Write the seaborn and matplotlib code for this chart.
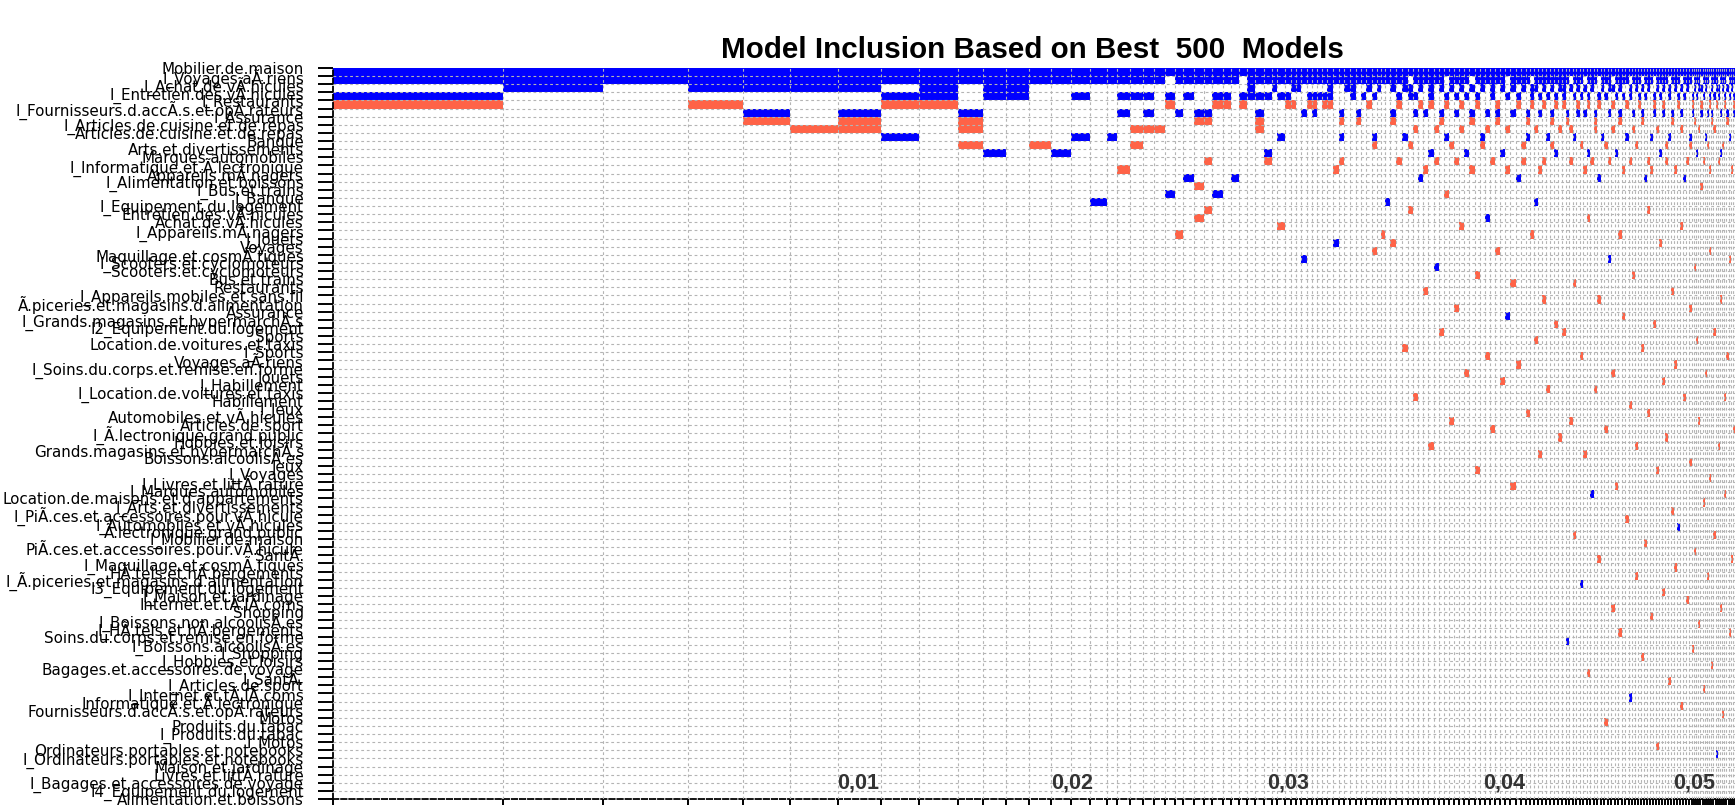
import numpy as np
import matplotlib
matplotlib.use("Agg")
import matplotlib.pyplot as plt
from matplotlib.colors import ListedColormap
import seaborn as sns

var_names = [
    "Mobilier.de.maison", "I_Voyages.aÃ.riens", "I_Achat.de.vÃ.hicules",
    "I_Entretien.des.vÃ.hicules", "I_Restaurants",
    "I_Fournisseurs.d.accÃ.s.et.opÃ.rateurs", "I_Assurance",
    "I_Articles.de.cuisine.et.de.repas", "Articles.de.cuisine.et.de.repas",
    "Banque", "Arts.et.divertissements", "Marques.automobiles",
    "I_Informatique.et.Ã.lectronique", "Appareils.mÃ.nagers",
    "I_Alimentation.et.boissons", "I_Bus.et.trains", "I_Banque",
    "I_Equipement.du.logement", "Entretien.des.vÃ.hicules",
    "Achat.de.vÃ.hicules", "I_Appareils.mÃ.nagers", "I_Jouets", "Voyages",
    "Maquillage.et.cosmÃ.tiques", "I_Scooters.et.cyclomoteurs",
    "Scooters.et.cyclomoteurs", "Bus.et.trains", "Restaurants",
    "I_Appareils.mobiles.et.sans.fil", "Ã.piceries.et.magasins.d.alimentation",
    "Assurance", "I_Grands.magasins.et.hypermarchÃ.s",
    "I2_Equipement.du.logement", "Sports", "Location.de.voitures.et.taxis",
    "I_Sports", "Voyages.aÃ.riens", "I_Soins.du.corps.et.remise.en.forme",
    "Jouets", "I_Habillement", "I_Location.de.voitures.et.taxis",
    "Habillement", "I_Jeux", "Automobiles.et.vÃ.hicules", "Articles.de.sport",
    "I_Ã.lectronique.grand.public", "Hobbies.et.loisirs",
    "Grands.magasins.et.hypermarchÃ.s", "Boissons.alcoolisÃ.es", "Jeux",
    "I_Voyages", "I_Livres.et.littÃ.rature", "I_Marques.automobiles",
    "Location.de.maisons.et.d.appartements", "I_Arts.et.divertissements",
    "I_PiÃ.ces.et.accessoires.pour.vÃ.hicule", "I_Automobiles.et.vÃ.hicules",
    "Ã.lectronique.grand.public", "I_Mobilier.de.maison",
    "PiÃ.ces.et.accessoires.pour.vÃ.hicule", "SantÃ.",
    "I_Maquillage.et.cosmÃ.tiques", "HÃ.tels.et.hÃ.bergements",
    "I_Ã.piceries.et.magasins.d.alimentation", "I3_Equipement.du.logement",
    "I_Maison.et.jardinage", "Internet.et.tÃ.lÃ.coms", "Shopping",
    "I_Boissons.non.alcoolisÃ.es", "I_HÃ.tels.et.hÃ.bergements",
    "Soins.du.corps.et.remise.en.forme", "I_Boissons.alcoolisÃ.es",
    "I_Shopping", "I_Hobbies.et.loisirs", "Bagages.et.accessoires.de.voyage",
    "I_SantÃ.", "I_Articles.de.sport", "I_Internet.et.tÃ.lÃ.coms",
    "Informatique.et.Ã.lectronique", "Fournisseurs.d.accÃ.s.et.opÃ.rateurs",
    "Motos", "Produits.du.tabac", "I_Produits.du.tabac", "I_Motos",
    "Ordinateurs.portables.et.notebooks", "I_Ordinateurs.portables.et.notebooks",
    "Maison.et.jardinage", "Livres.et.littÃ.rature",
    "I_Bagages.et.accessoires.de.voyage", "I4_Equipement.du.logement",
    "Alimentation.et.boissons",
]

# posterior model probabilities of the visible models, in units of 1e-5
pmp = [631, 371, 315, 204, 171, 178, 159, 141, 145, 93, 85, 85, 82, 74, 70, 63,
       37, 48, 48, 41, 41, 37, 30, 41, 37, 30, 41, 30, 30, 30, 30, 30, 30, 19,
       30, 22, 19, 19, 22, 19, 19, 19, 19, 22, 22, 19, 19, 22, 19, 19, 22, 19,
       15, 15, 19,
       22, 22, 22] + [19] * 23 + [15] * 9 + [13] * 20 + [11] * 20 + [8] * 20

# variables in each model: +k positive, -k negative coefficient (k = row)
models = [
    "+1 +2 +4 -5", "+1 +2 +3", "+1 +2", "+1 +2 +3 -5", "+1 +2 +3 +6 -7",
    "+1 +2 +3 -8", "+1 +2 +3 +6 -7 -8", "+1 +2 +4 -5 +9", "+1 +2 +3 +4 -5",
    "+1 +2 +6 -7 -8 -10", "+1 +2 +3 +4 +11", "+1 +2 +3 +4", "+1 +2 -10",
    "+1 +2 +11", "+1 +2 +4 +9", "+1 +2 +17",
    "+1 +2 +9", "+1 +2 +4 +6 -13", "+1 +2 +4 -8 -10", "+1 +2 +4 +6 -8",
    "+1 +2 -8", "+1 +4 -5 +16", "+1 +2 +6 -21", "+1 +2 +4 +14",
    "+1 +2 +6 -7 -15 -19", "+1 +2 +6 -7 -12 -18", "+1 +2 +4 -5 +16",
    "+1 +2 +4 -5", "+1 +2 +14", "+1 +4 -5", "+1 +2 +3 +4",
    "+1 +2 +4 +6 -7 -8", "+1 +2 +4 +11 -12", "+1 +2 +3", "+1 +2 +4 +9 -20",
    "+1 +2 +4 -5", "+1 +2 +3 -5", "+1 +2 +3", "+1 +2 +6 +24", "+1 +2 +4 -5",
    "+1 +2 +4 -5 +6", "+1 +2 +4", "+1 +2 +4 -5", "+1 +2 +3 +4 -5",
    "+1 +2 -13 +22", "+1 +2 +6 -7 +9 -12", "+1 +2 +3", "+1 +2 +3 +4",
    "+1 +2 +6 -7", "+1 +2 +4", "+1 +2 +3 -5", "+1 +2 +4 +9 -10 -23",
    "+1 +2 +3", "+1 +2 -21", "+1 +2 +17",
    # thinner models
    "+1 +2 +3 +6 -7 -22", "+1 +2 +4 -5 -12", "+1 +2 +3 +9 -35",
    "+1 +3 +4 -10 -18", "+1 +2 +4 +6 -8 -41", "+1 +2 +3 -5 +14",
    "+1 +2 +6 -13 -28", "+1 +2 +3 +4 -5 +11 -47", "+1 +2 -8 -12 +25",
    "+1 +2 +3 +6 -7 -33", "+1 +4 -5 +9 -16", "+1 +2 +3 -10 -44",
    "+1 +2 +4 +6 -12 -30", "+1 +2 +3 -5 -8 -20", "+1 +2 +4 +11 -38",
    "+1 +3 +6 -7 -13", "+1 +2 +4 -5 -26 -50", "+1 +2 +3 +9 -10",
    "+1 +2 +6 -8 +19 -36", "+1 +2 +3 +4 -12 -45", "+1 +2 -5 +6 -7 -23",
    "+1 +2 +3 +11 -39", "+1 +4 -8 -13 +31", "+1 +2 +3 +6 -27 -52",
    "+1 +2 +4 -5 +14 -37", "+1 +2 +3 -10 -12", "+1 +2 +6 -7 +9 -43",
    "+1 +3 +4 -5 -21", "+1 +2 +3 -8 +17 -34", "+1 +2 +4 +6 -13 -48",
    "+1 +2 +3 -5 -12 -29", "+1 +2 +4 +9 -40", "+1 +2 +3 +6 -7 -10",
    "+1 +2 +4 -5 +11 -32", "+1 +2 +3 -8 -46",
    # thinnest models
    "+1 +2 +3 +4 -5 -33", "+1 +2 +6 -7 +71", "+1 +3 -8 -12 -44",
    "+1 +2 +4 +9 -27 -58", "+1 +2 +3 -5 +6", "+1 +2 +4 -10 +64 -36",
    "+1 +3 +6 -13 -48", "+1 +2 +4 -5 +11 -19 -75", "+1 +2 +3 -12 +53",
    "+1 +2 +6 -7 -8 -40", "+1 +4 -5 +14 -61 -29", "+1 +2 +3 +9",
    "+1 +2 +4 -10 -45 -81", "+1 +2 +3 +6 -12 +24", "+1 +3 -5 -8 -67 -38",
    "+1 +2 +4 +11 -52", "+1 +2 +3 -7 +6 -21 -70", "+1 +2 +4 -13 -31",
    "+1 +2 -5 +9 -56", "+1 +3 +4 -12 +78 -42", "+1 +2 +6 -8 -26",
    "+1 +2 +3 -10 -63 -47", "+1 +2 +4 -5", "+1 +3 +6 -7 -35 -73",
    "+1 +2 +4 +14 -59", "+1 +2 +3 -12 -18 -43", "+1 +2 +9 -13 -68",
    "+1 +4 -5 +6 -32", "+1 +2 +3 -8 -50 -84", "+1 +2 +4 +11 -22",
    "+1 +2 +3 -5 +6 -65 -39", "+1 +2 -10 -12 -46", "+1 +3 +4 +9 -76",
    "+1 +2 +6 -7 -28 -55", "+1 +2 +3 -13 -37 -62", "+1 +2 +4 -5 +57",
    "+1 +3 +6 -8 -20 -79", "+1 +2 +4 +14 -41", "+1 +2 +3 -12 -66",
    "+1 +2 +9 -10 -30 -49", "+1 +4 -5 +6 -72", "+1 +2 +3 -7 -25 -60",
    "+1 +2 +4 +11 -34", "+1 +2 +3 -8 -69 -44", "+1 +3 -5 +6 -15",
    "+1 +2 +4 -12 -54 -77", "+1 +2 +3 +9 -38", "+1 +2 -10 +6 -63",
    "+1 +4 -5 -13 -23 -51", "+1 +2 +3 +6 -7 -74", "+1 +2 +4 -8 -33 -58",
    "+1 +2 +3 -5 +85", "+1 +3 +4 -12 -47", "+1 +2 +6 +11 -29 -67",
    "+1 +2 +3 -10 -80", "+1 +2 +4 -5 -41 -53", "+1 +3 +6 -7 -36",
    "+1 +2 +4 +9 -70 -24", "+1 +2 +3 -13 -61", "+1 +2 +4 -5 +6 -45",
]

xtick_text = ["0,01", "0,02", "0,03", "0,04", "0,05"]
xtick_at = [1945, 2737, 3538, 4338, 5044]  # same 1e-5 units as pmp

sns.set_theme(style="white")
plt.rcParams["font.family"] = ["DejaVu Sans"]

n_var = len(var_names)
z = np.zeros((n_var, len(models)))
for j, m in enumerate(models):
    for tok in m.split():
        z[int(tok[1:]) - 1, j] = 1 if tok[0] == "+" else -1

edges = np.concatenate([[0], np.cumsum(pmp)]) * 1e-5
rows = np.arange(n_var + 1)

fig = plt.figure(figsize=(17.35, 8.05), dpi=100)
ax = fig.add_axes([333 / 1735, 6 / 805, 1402 / 1735, 731 / 805])

cmap = ListedColormap(["tomato", "white", "blue"])
ax.pcolormesh(edges, rows, z, cmap=cmap, vmin=-1.5, vmax=1.5)

for e in edges[1:]:
    ax.axvline(e, color="#b4b4b4", lw=0.8, ls=(0, (2.5, 2.5)), zorder=3)
for r in rows[1:-1]:
    ax.axhline(r, color="#b4b4b4", lw=0.8, ls=(0, (2.5, 2.5)), zorder=3)

ax.set_xlim(0, edges[-1])
ax.set_ylim(n_var - 1, 0)

ax.set_yticks(rows[:-1])
ax.set_yticklabels(var_names, fontsize=10.9, color="black")
ax.tick_params(axis="y", length=11, width=1.4, pad=10, color="black", left=True)
ax.set_xticks(edges)
ax.set_xticklabels([])
ax.tick_params(axis="x", length=5, width=1.4, color="black", bottom=True)

for s in ["top", "right"]:
    ax.spines[s].set_visible(False)
for s in ["left", "bottom"]:
    ax.spines[s].set_linestyle((0, (3, 1.5)))
    ax.spines[s].set_linewidth(1.3)
    ax.spines[s].set_color("black")

for t, x in zip(xtick_text, xtick_at):
    ax.text(x * 1e-5, 88.0, t, ha="center", va="center", fontsize=15.5,
            fontweight="bold", color="#333333", family="Liberation Sans")

fig.text(1032 / 1735, 1 - 50 / 805, "Model Inclusion Based on Best  500  Models",
         ha="center", va="center", fontsize=21.3, fontweight="bold",
         family="Liberation Sans", color="black")

fig.savefig("out.png", dpi=100)
